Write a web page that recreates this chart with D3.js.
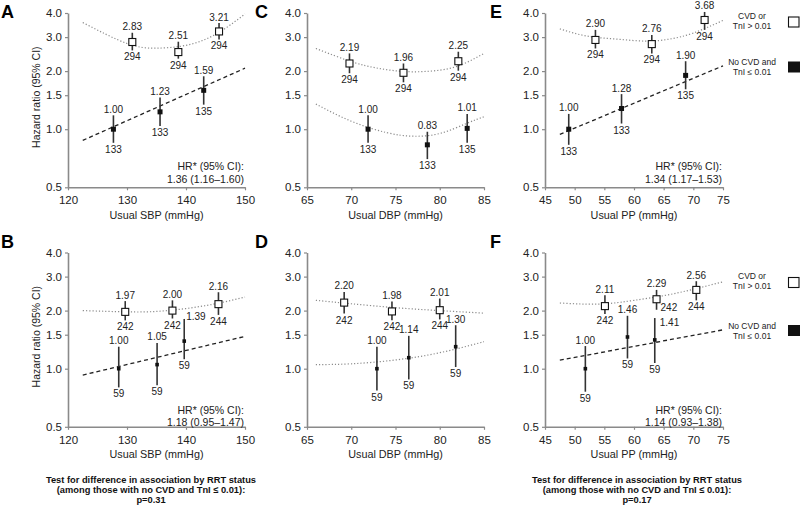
<!DOCTYPE html>
<html><head><meta charset="utf-8">
<script src="https://cdn.jsdelivr.net/npm/d3@7"></script>
<style>
body{margin:0;background:#fff}
svg{display:block}
text{font-family:"Liberation Sans",Arial,Helvetica,sans-serif;fill:#222}
</style>
</head><body>
<svg id="chart" width="800" height="510"></svg>
<script>
// ---------- tick labels ----------
const yTickValues = [0.5, 1.0, 1.5, 2.0, 3.0, 4.0];
const sbpTicks = [120, 130, 140, 150];
const dbpTicks = [65, 70, 75, 80, 85];
const ppTicks = [45, 50, 55, 60, 65, 70, 75];

// ---------- Panel A (SBP, top) ----------
const aOpenX = [130.9, 138.7, 145.6];
const aOpenHR = [2.83, 2.51, 3.21];
const aOpenLo = [2.56, 2.32, 2.92];
const aOpenHi = [3.16, 2.84, 3.55];
const aOpenN = [294, 294, 294];
const aFillX = [127.7, 135.6, 143.0];
const aFillHR = [1.00, 1.23, 1.59];
const aFillLo = [0.85, 1.04, 1.34];
const aFillHi = [1.18, 1.46, 1.88];
const aFillN = [133, 133, 135];
const aOpenTrendX = [122.5, 130, 135, 140, 145, 150];
const aOpenTrendHR = [3.57, 2.78, 2.63, 2.72, 3.1, 3.95];
const aFillTrendX = [122.5, 150];
const aFillTrendHR = [0.875, 2.07];

// ---------- Panel C (DBP, top) ----------
const cOpenX = [69.8, 75.9, 82.1];
const cOpenHR = [2.19, 1.96, 2.25];
const cOpenLo = [1.95, 1.75, 2.01];
const cOpenHi = [2.47, 2.19, 2.52];
const cOpenN = [294, 294, 294];
const cFillX = [71.9, 78.6, 83.1];
const cFillHR = [1.00, 0.83, 1.01];
const cFillLo = [0.85, 0.70, 0.85];
const cFillHi = [1.18, 0.97, 1.20];
const cFillN = [133, 133, 135];
const cOpenTrendX = [66, 70, 73, 76, 79, 82, 85];
const cOpenTrendHR = [2.62, 2.24, 2.07, 1.99, 2.0, 2.12, 2.47];
const cFillTrendX = [66, 70, 74, 77, 80, 83, 85];
const cFillTrendHR = [1.35, 1.1, 0.96, 0.92, 0.95, 1.07, 1.16];

// ---------- Panel E (PP, top) ----------
const eOpenX = [53.5, 63.0, 71.9];
const eOpenHR = [2.90, 2.76, 3.68];
const eOpenLo = [2.62, 2.47, 3.27];
const eOpenHi = [3.27, 3.08, 4.05];
const eOpenN = [294, 294, 294];
const eFillX = [49.0, 57.9, 68.7];
const eFillHR = [1.00, 1.28, 1.90];
const eFillLo = [0.83, 1.07, 1.61];
const eFillHi = [1.20, 1.52, 2.25];
const eFillN = [133, 133, 135];
const eOpenTrendX = [47.5, 52, 57, 62, 66, 70, 75];
const eOpenTrendHR = [3.31, 3.04, 2.93, 2.86, 2.93, 3.15, 3.66];
const eFillTrendX = [47.5, 75];
const eFillTrendHR = [0.94, 2.13];

// ---------- Panel B (SBP, bottom) ----------
const bOpenX = [129.7, 137.7, 145.5];
const bOpenHR = [1.97, 2.00, 2.16];
const bOpenLo = [1.78, 1.82, 1.90];
const bOpenHi = [2.24, 2.26, 2.49];
const bOpenN = [242, 242, 244];
const bFillX = [128.6, 135.1, 139.7];
const bFillHR = [1.00, 1.05, 1.39];
const bFillLo = [0.80, 0.82, 1.12];
const bFillHi = [1.30, 1.36, 1.81];
const bFillN = [59, 59, 59];
const bOpenTrendX = [122.5, 130, 135, 140, 145, 150];
const bOpenTrendHR = [2.0, 1.97, 1.98, 2.05, 2.17, 2.35];
const bFillTrendX = [122.5, 150];
const bFillTrendHR = [0.927, 1.47];

// ---------- Panel D (DBP, bottom) ----------
const dOpenX = [69.2, 74.6, 80.0];
const dOpenHR = [2.20, 1.98, 2.01];
const dOpenLo = [1.93, 1.78, 1.80];
const dOpenHi = [2.50, 2.23, 2.31];
const dOpenN = [242, 242, 244];
const dFillX = [72.9, 76.5, 81.8];
const dFillHR = [1.00, 1.14, 1.30];
const dFillLo = [0.77, 0.88, 1.02];
const dFillHi = [1.30, 1.48, 1.68];
const dFillN = [59, 59, 59];
const dOpenTrendX = [66, 70, 75, 80, 85];
const dOpenTrendHR = [2.26, 2.17, 2.07, 2.0, 1.94];
const dFillTrendX = [66, 70, 75, 80, 85];
const dFillTrendHR = [1.05, 1.06, 1.11, 1.21, 1.38];

// ---------- Panel F (PP, bottom) ----------
const fOpenX = [55.1, 63.8, 70.5];
const fOpenHR = [2.11, 2.29, 2.56];
const fOpenLo = [1.92, 2.02, 2.26];
const fOpenHi = [2.40, 2.56, 2.84];
const fOpenN = [242, 242, 244];
const fFillX = [51.8, 58.9, 63.5];
const fFillHR = [1.00, 1.46, 1.41];
const fFillLo = [0.76, 1.13, 1.07];
const fFillHi = [1.31, 1.88, 1.83];
const fFillN = [59, 59, 59];
const fOpenTrendX = [47.5, 52, 56, 60, 65, 70, 75];
const fOpenTrendHR = [2.19, 2.16, 2.18, 2.26, 2.39, 2.58, 2.82];
const fFillTrendX = [47.5, 75];
const fFillTrendHR = [1.107, 1.59];

// ---------- texts ----------
const hrTexts = {A: "1.36 (1.16\u20131.60)", B: "1.18 (0.95\u20131.47)", E: "1.34 (1.17\u20131.53)", F: "1.14 (0.93\u20131.38)"};
const testTextB = ["Test for difference in association by RRT status", "(among those with no CVD and TnI \u2264 0.01):", "p=0.31"];
const testTextF = ["Test for difference in association by RRT status", "(among those with no CVD and TnI \u2264 0.01):", "p=0.17"];
const legendOpen = ["CVD or", "TnI > 0.01"];
const legendFill = ["No CVD and", "TnI \u2264 0.01"];

// ---------- build ----------
const svg = d3.select("#chart");
const colX = [[68, 245], [307, 484], [545, 723]];
const rowY = [[187.3, 13.0], [426.8, 252.5]];
const letterX = [1, 255, 490];
const letterY = [18, 248];

function series(x, hr, lo, hi, n) { return x.map((v, i) => ({x: v, hr: hr[i], lo: lo[i], hi: hi[i], n: n[i]})); }
function trend(x, hr) { return x.map((v, i) => ({x: v, hr: hr[i]})); }

const panels = [
  {id: "A", col: 0, row: 0, dom: [120, 150], ticks: sbpTicks, title: "Usual SBP (mmHg)", yTitle: true,
   open: series(aOpenX, aOpenHR, aOpenLo, aOpenHi, aOpenN), fill: series(aFillX, aFillHR, aFillLo, aFillHi, aFillN),
   openTrend: trend(aOpenTrendX, aOpenTrendHR), fillTrend: trend(aFillTrendX, aFillTrendHR), fillDashed: true, big: true},
  {id: "C", col: 1, row: 0, dom: [65, 85], ticks: dbpTicks, title: "Usual DBP (mmHg)",
   open: series(cOpenX, cOpenHR, cOpenLo, cOpenHi, cOpenN), fill: series(cFillX, cFillHR, cFillLo, cFillHi, cFillN),
   openTrend: trend(cOpenTrendX, cOpenTrendHR), fillTrend: trend(cFillTrendX, cFillTrendHR), fillDashed: false, big: true},
  {id: "E", col: 2, row: 0, dom: [45, 75], ticks: ppTicks, title: "Usual PP (mmHg)",
   open: series(eOpenX, eOpenHR, eOpenLo, eOpenHi, eOpenN), fill: series(eFillX, eFillHR, eFillLo, eFillHi, eFillN),
   openTrend: trend(eOpenTrendX, eOpenTrendHR), fillTrend: trend(eFillTrendX, eFillTrendHR), fillDashed: true, big: true},
  {id: "B", col: 0, row: 1, dom: [120, 150], ticks: sbpTicks, title: "Usual SBP (mmHg)", yTitle: true,
   open: series(bOpenX, bOpenHR, bOpenLo, bOpenHi, bOpenN), fill: series(bFillX, bFillHR, bFillLo, bFillHi, bFillN),
   openTrend: trend(bOpenTrendX, bOpenTrendHR), fillTrend: trend(bFillTrendX, bFillTrendHR), fillDashed: true, big: false},
  {id: "D", col: 1, row: 1, dom: [65, 85], ticks: dbpTicks, title: "Usual DBP (mmHg)",
   open: series(dOpenX, dOpenHR, dOpenLo, dOpenHi, dOpenN), fill: series(dFillX, dFillHR, dFillLo, dFillHi, dFillN),
   openTrend: trend(dOpenTrendX, dOpenTrendHR), fillTrend: trend(dFillTrendX, dFillTrendHR), fillDashed: false, big: false},
  {id: "F", col: 2, row: 1, dom: [45, 75], ticks: ppTicks, title: "Usual PP (mmHg)",
   open: series(fOpenX, fOpenHR, fOpenLo, fOpenHi, fOpenN), fill: series(fFillX, fFillHR, fFillLo, fFillHi, fFillN),
   openTrend: trend(fOpenTrendX, fOpenTrendHR), fillTrend: trend(fFillTrendX, fFillTrendHR), fillDashed: true, big: false}
];

// label placement exceptions (panel, series, label, dx, dy)
const sideLabels = [
  {p: "B", s: "fill", i: 2, which: "hr", dx: 2, dy: 1.5},
  {p: "F", s: "open", i: 1, which: "n", dx: 4, dy: 1},
  {p: "F", s: "fill", i: 2, which: "hr", dx: 5, dy: 8}
];

panels.forEach(p => {
  const x = d3.scaleLinear().domain(p.dom).range(colX[p.col]);
  const y = d3.scaleLog().domain([0.5, 4.0]).range(rowY[p.row]);
  const g = svg.append("g");
  const bottom = rowY[p.row][0];

  // axes
  const ya = g.append("g").attr("transform", `translate(${colX[p.col][0]},0)`)
    .call(d3.axisLeft(y).tickValues(yTickValues).tickFormat(d3.format(".1f")).tickSize(3).tickSizeOuter(0).tickPadding(3));
  const xa = g.append("g").attr("transform", `translate(0,${bottom})`)
    .call(d3.axisBottom(x).tickValues(p.ticks).tickFormat(d3.format("d")).tickSize(3).tickSizeOuter(0).tickPadding(6));
  [ya, xa].forEach(a => {
    a.select(".domain").attr("stroke", "#8a8a8a").attr("stroke-width", 1.6);
    a.selectAll(".tick line").attr("stroke", "#8a8a8a").attr("stroke-width", 1.2);
    a.selectAll(".tick text").attr("fill", "#222").style("font-size", "11.5px")
      .style("font-family", '"Liberation Sans",Arial,sans-serif');
  });

  g.append("text").attr("x", (colX[p.col][0] + colX[p.col][1]) / 2).attr("y", bottom + 31.5)
    .attr("text-anchor", "middle").style("font-size", "10.8px").text(p.title);

  if (p.yTitle) {
    g.append("text").attr("transform", `translate(${colX[p.col][0] - 32},${(rowY[p.row][0] + rowY[p.row][1]) / 2 - 3}) rotate(-90)`)
      .attr("text-anchor", "middle").attr("dy", "0.35em").style("font-size", "10.5px").text("Hazard ratio (95% CI)");
  }

  // letter
  svg.append("text").attr("x", letterX[p.col]).attr("y", letterY[p.row])
    .style("font-size", "18px").style("font-weight", "bold").style("fill", "#000").text(p.id);

  // trends
  const line = d3.line().x(d => x(d.x)).y(d => y(d.hr)).curve(d3.curveNatural);
  g.append("path").datum(p.openTrend).attr("d", line).attr("fill", "none")
    .attr("stroke", "#8c8c8c").attr("stroke-width", 1.2).attr("stroke-dasharray", "1.2,2");
  const fp = g.append("path").datum(p.fillTrend).attr("d", line).attr("fill", "none");
  if (p.fillDashed) fp.attr("stroke", "#222").attr("stroke-width", 1.3).attr("stroke-dasharray", "4,3");
  else fp.attr("stroke", "#8c8c8c").attr("stroke-width", 1.2).attr("stroke-dasharray", "1.2,2");

  // whiskers + markers
  const drawSeries = (data, kind) => {
    g.selectAll(null).data(data).enter().append("line")
      .attr("x1", d => x(d.x)).attr("x2", d => x(d.x))
      .attr("y1", d => y(d.lo)).attr("y2", d => y(d.hi))
      .attr("stroke", "#333").attr("stroke-width", 1.6);
    const s = kind === "open" ? 7 : (p.big ? 5 : 3.6);
    g.selectAll(null).data(data).enter().append("rect")
      .attr("x", d => x(d.x) - s / 2).attr("y", d => y(d.hr) - s / 2)
      .attr("width", s).attr("height", s)
      .attr("fill", kind === "open" ? "#fff" : "#111")
      .attr("stroke", "#111").attr("stroke-width", kind === "open" ? 1.1 : 0);
    data.forEach((d, i) => {
      const sideHR = sideLabels.find(o => o.p === p.id && o.s === kind && o.i === i && o.which === "hr");
      const sideN = sideLabels.find(o => o.p === p.id && o.s === kind && o.i === i && o.which === "n");
      const t1 = g.append("text").style("font-size", "10px").text(d3.format(".2f")(d.hr));
      if (sideHR) t1.attr("x", x(d.x) + sideHR.dx).attr("y", y(d.hi) + sideHR.dy).attr("text-anchor", "start");
      else t1.attr("x", x(d.x)).attr("y", y(d.hi) - 2.5).attr("text-anchor", "middle");
      const t2 = g.append("text").style("font-size", "10px").text(d.n);
      if (sideN) t2.attr("x", x(d.x) + sideN.dx).attr("y", y(d.lo) + sideN.dy).attr("text-anchor", "start");
      else t2.attr("x", x(d.x)).attr("y", y(d.lo) + 10).attr("text-anchor", "middle");
    });
  };
  drawSeries(p.open, "open");
  drawSeries(p.fill, "fill");

  if (hrTexts[p.id]) {
    const xr = colX[p.col][1] - 1;
    const yb = p.row === 0 ? 170 : 413.5;
    g.append("text").attr("x", xr).attr("y", yb).attr("text-anchor", "end").style("font-size", "10.5px").text("HR* (95% CI):");
    g.append("text").attr("x", xr).attr("y", yb + 12.5).attr("text-anchor", "end").style("font-size", "10.5px").text(hrTexts[p.id]);
  }
});

// legends
function legend(top) {
  const lg = svg.append("g");
  legendOpen.forEach((t, i) => lg.append("text").attr("x", 752).attr("y", top.open + i * 10).attr("text-anchor", "middle").style("font-size", "8.5px").text(t));
  legendFill.forEach((t, i) => lg.append("text").attr("x", 752).attr("y", top.fill + i * 10).attr("text-anchor", "middle").style("font-size", "8.5px").text(t));
  lg.append("rect").attr("x", 788.5).attr("y", top.openSq).attr("width", 10.5).attr("height", 10).attr("fill", "#fff").attr("stroke", "#111").attr("stroke-width", 1.1);
  lg.append("rect").attr("x", 788).attr("y", top.fillSq).attr("width", 12).attr("height", 11).attr("fill", "#111");
}
legend({open: 19, fill: 64.5, openSq: 17, fillSq: 61.5});
legend({open: 278.5, fill: 328.5, openSq: 277.5, fillSq: 325});

// bottom notes
function note(lines, cx) {
  lines.forEach((t, i) => svg.append("text").attr("x", cx).attr("y", 483 + i * 10)
    .attr("text-anchor", "middle").style("font-size", "9.3px").style("font-weight", "bold").style("fill", "#111").text(t));
}
note(testTextB, 151);
note(testTextF, 637);
</script>
</body></html>
